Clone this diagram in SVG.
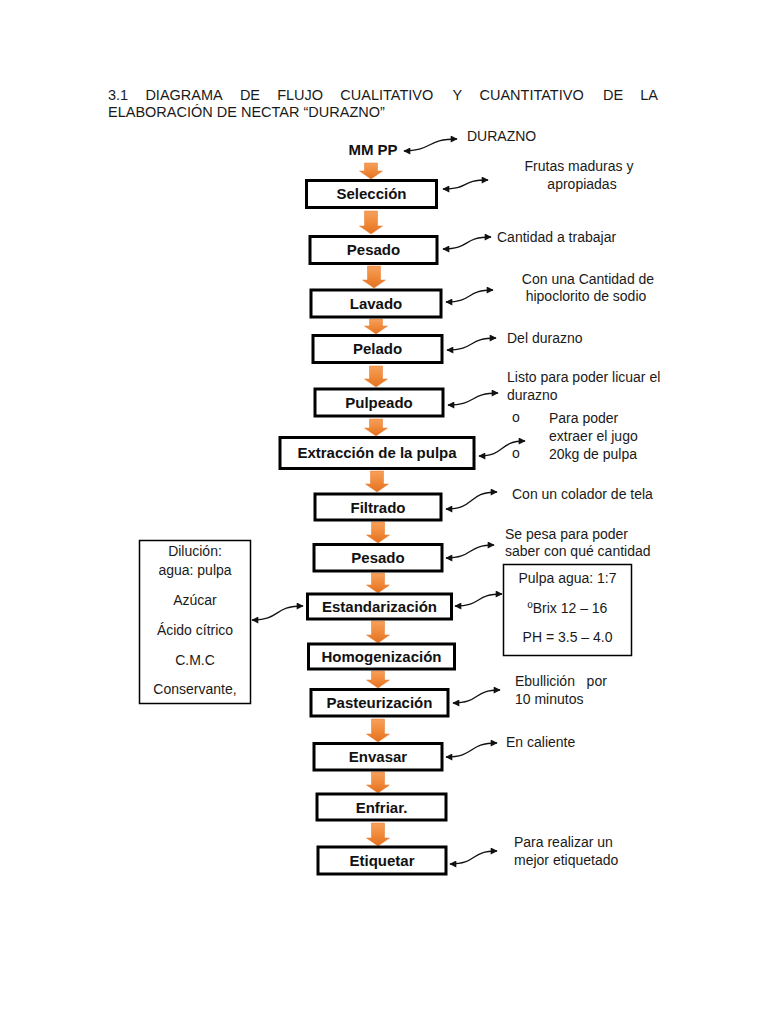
<svg xmlns="http://www.w3.org/2000/svg" width="768" height="1024" viewBox="0 0 768 1024">
<defs>
<linearGradient id="og" x1="0" y1="0" x2="0" y2="1">
<stop offset="0" stop-color="#f6a05c"/>
<stop offset="0.5" stop-color="#f08a3a"/>
<stop offset="1" stop-color="#e2701f"/>
</linearGradient>
<marker id="ah" viewBox="0 0 10 10" refX="9" refY="5" markerWidth="8" markerHeight="7" markerUnits="userSpaceOnUse" orient="auto-start-reverse">
<path d="M0,0 L10,5 L0,10 Z" fill="#111"/>
</marker>
<style>
.bg{fill:#ffffff}
.box{fill:#ffffff;stroke:#000;stroke-width:3}
.tbox{fill:#ffffff;stroke:#000;stroke-width:1.5}
.lbl{font-family:"Liberation Sans",Arial,sans-serif;font-size:15px;font-weight:bold;fill:#111;text-anchor:middle}
.ann{font-family:"Liberation Sans",Arial,sans-serif;font-size:14px;fill:#1a1a1a}
.annc{font-family:"Liberation Sans",Arial,sans-serif;font-size:14px;fill:#1a1a1a;text-anchor:middle}
.title{font-family:"Liberation Sans",Arial,sans-serif;font-size:14.5px;fill:#1a1a1a}
.oa{fill:url(#og);stroke:#e8782a;stroke-width:0.5}
.cv{fill:none;stroke:#111;stroke-width:1.3;marker-start:url(#ah);marker-end:url(#ah)}
</style>
</defs>
<rect class="bg" x="0" y="0" width="768" height="1024"/>

<g id="title">
<text class="title" y="100"><tspan x="108">3.1</tspan><tspan x="145.4">DIAGRAMA</tspan><tspan x="239.9">DE</tspan><tspan x="277.2">FLUJO</tspan><tspan x="340.3">CUALITATIVO</tspan><tspan x="452.6">Y</tspan><tspan x="479.5">CUANTITATIVO</tspan><tspan x="603">DE</tspan><tspan x="640.3">LA</tspan></text>
<text class="title" x="108" y="117" fill="#3a3a3a">ELABORACIÓN DE NECTAR “DURAZNO”</text>
</g>

<g id="mmpp"><text class="lbl" x="373" y="155" font-size="14">MM PP</text></g>
<g id="durazno-label"><text class="ann" x="467" y="141">DURAZNO</text></g>

<g id="flow-arrows">
<path class="oa" d="M364.5 163 H377.5 V171 H382.5 L371 179 L359.5 171 H364.5 Z"/>
<path class="oa" d="M364.5 211 H377.5 V226 H382.5 L371 234 L359.5 226 H364.5 Z"/>
<path class="oa" d="M367.5 266 H380.5 V280 H385.5 L374 288 L362.5 280 H367.5 Z"/>
<path class="oa" d="M369.5 319 H382.5 V326 H387.5 L376 334 L364.5 326 H369.5 Z"/>
<path class="oa" d="M369.5 366 H382.5 V379 H387.5 L376 387 L364.5 379 H369.5 Z"/>
<path class="oa" d="M369.5 419 H382.5 V428 H387.5 L376 436 L364.5 428 H369.5 Z"/>
<path class="oa" d="M370.5 471 H383.5 V484 H388.5 L377 492 L365.5 484 H370.5 Z"/>
<path class="oa" d="M371.5 522 H384.5 V535 H389.5 L378 543 L366.5 535 H371.5 Z"/>
<path class="oa" d="M371.5 573 H384.5 V585 H389.5 L378 593 L366.5 585 H371.5 Z"/>
<path class="oa" d="M371.5 621 H384.5 V635 H389.5 L378 643 L366.5 635 H371.5 Z"/>
<path class="oa" d="M371.5 671 H384.5 V680 H389.5 L378 688 L366.5 680 H371.5 Z"/>
<path class="oa" d="M371.5 719 H384.5 V734 H389.5 L378 742 L366.5 734 H371.5 Z"/>
<path class="oa" d="M371.5 772 H384.5 V785 H389.5 L378 793 L366.5 785 H371.5 Z"/>
<path class="oa" d="M371.5 823 H384.5 V838 H389.5 L378 846 L366.5 838 H371.5 Z"/>
</g>

<g id="seleccion"><rect class="box" x="306.5" y="180.5" width="130" height="27"/><text class="lbl" x="371.5" y="199">Selección</text></g>
<g id="pesado1"><rect class="box" x="310" y="236.5" width="127" height="27"/><text class="lbl" x="373.5" y="255">Pesado</text></g>
<g id="lavado"><rect class="box" x="311" y="290" width="130" height="27"/><text class="lbl" x="376" y="308.5">Lavado</text></g>
<g id="pelado"><rect class="box" x="313" y="335.5" width="129" height="27"/><text class="lbl" x="377.5" y="354">Pelado</text></g>
<g id="pulpeado"><rect class="box" x="315" y="389" width="128" height="27"/><text class="lbl" x="379" y="407.5">Pulpeado</text></g>
<g id="extraccion"><rect class="box" x="280" y="437.5" width="194" height="31"/><text class="lbl" x="377" y="458">Extracción de la pulpa</text></g>
<g id="filtrado"><rect class="box" x="315" y="494" width="126" height="26"/><text class="lbl" x="378" y="512.5">Filtrado</text></g>
<g id="pesado2"><rect class="box" x="314" y="544.5" width="128" height="26.5"/><text class="lbl" x="378" y="563">Pesado</text></g>
<g id="estandarizacion"><rect class="box" x="307.5" y="594" width="144" height="25"/><text class="lbl" x="379.5" y="612">Estandarización</text></g>
<g id="homogenizacion"><rect class="box" x="308.5" y="644" width="146" height="25"/><text class="lbl" x="381.5" y="662">Homogenización</text></g>
<g id="pasteurizacion"><rect class="box" x="311" y="689.5" width="137" height="26.5"/><text class="lbl" x="379.5" y="708">Pasteurización</text></g>
<g id="envasar"><rect class="box" x="314" y="743.5" width="128" height="26.5"/><text class="lbl" x="378" y="762">Envasar</text></g>
<g id="enfriar"><rect class="box" x="317" y="794" width="129" height="26"/><text class="lbl" x="381.5" y="812.5">Enfriar.</text></g>
<g id="etiquetar"><rect class="box" x="318" y="847" width="128" height="27"/><text class="lbl" x="382" y="866">Etiquetar</text></g>

<g id="connectors">
<path class="cv" d="M404 151 C432 151,426 139,457 139"/>
<path class="cv" d="M443 189 C470 189,460 180,488 180"/>
<path class="cv" d="M443 249 C471 249,462 237,491 237"/>
<path class="cv" d="M446 302 C474 302,465 290,493 290"/>
<path class="cv" d="M447 350 C476 350,467 338,496 338"/>
<path class="cv" d="M448 405 C477 405,469 393,498 393"/>
<path class="cv" d="M479 456 C506 456,498 441,525 441"/>
<path class="cv" d="M446 509 C476 509,467 492,497 492"/>
<path class="cv" d="M446 558 C474 558,466 545,494 545"/>
<path class="cv" d="M455 606 C483 606,474 594,502 594"/>
<path class="cv" d="M252 620 C281 620,273 606,303 606"/>
<path class="cv" d="M453 703 C481 703,472 690,500 690"/>
<path class="cv" d="M446 757 C476 757,467 743,497 743"/>
<path class="cv" d="M450 864 C478 864,469 851,497 851"/>
</g>

<g id="notes">
<text class="annc" x="579" y="171">Frutas maduras y</text>
<text class="annc" x="582" y="189">apropiadas</text>
<text class="ann" x="497" y="242">Cantidad a trabajar</text>
<text class="annc" x="588" y="284">Con una Cantidad de</text>
<text class="annc" x="586" y="301">hipoclorito de sodio</text>
<text class="ann" x="507" y="343">Del durazno</text>
<text class="ann" x="507" y="382">Listo para poder licuar el</text>
<text class="ann" x="507" y="400">durazno</text>
<text class="ann" x="512" y="422" font-size="11">o</text>
<text class="ann" x="549" y="423">Para poder</text>
<text class="ann" x="549" y="441">extraer el jugo</text>
<text class="ann" x="512" y="458" font-size="11">o</text>
<text class="ann" x="549" y="459">20kg de pulpa</text>
<text class="ann" x="512" y="499">Con un colador de tela</text>
<text class="ann" x="505" y="539">Se pesa para poder</text>
<text class="ann" x="505" y="556">saber con qué cantidad</text>
<text class="ann" x="515" y="686" xml:space="preserve">Ebullición   por</text>
<text class="ann" x="515" y="704">10 minutos</text>
<text class="ann" x="506" y="747">En caliente</text>
<text class="ann" x="514" y="847">Para realizar un</text>
<text class="ann" x="514" y="865">mejor etiquetado</text>
</g>

<g id="params-box">
<rect class="tbox" x="503.5" y="564.5" width="128" height="91"/>
<text class="annc" x="567.5" y="583">Pulpa agua: 1:7</text>
<text class="annc" x="567.5" y="613">ºBrix 12 – 16</text>
<text class="annc" x="567.5" y="642">PH = 3.5 – 4.0</text>
</g>

<g id="ingredients-box">
<rect class="tbox" x="139.5" y="540.5" width="111" height="163"/>
<text class="annc" x="195" y="556">Dilución:</text>
<text class="annc" x="195" y="575">agua: pulpa</text>
<text class="annc" x="195" y="605">Azúcar</text>
<text class="annc" x="195" y="635">Ácido cítrico</text>
<text class="annc" x="195" y="665">C.M.C</text>
<text class="annc" x="195" y="694">Conservante,</text>
</g>
</svg>
